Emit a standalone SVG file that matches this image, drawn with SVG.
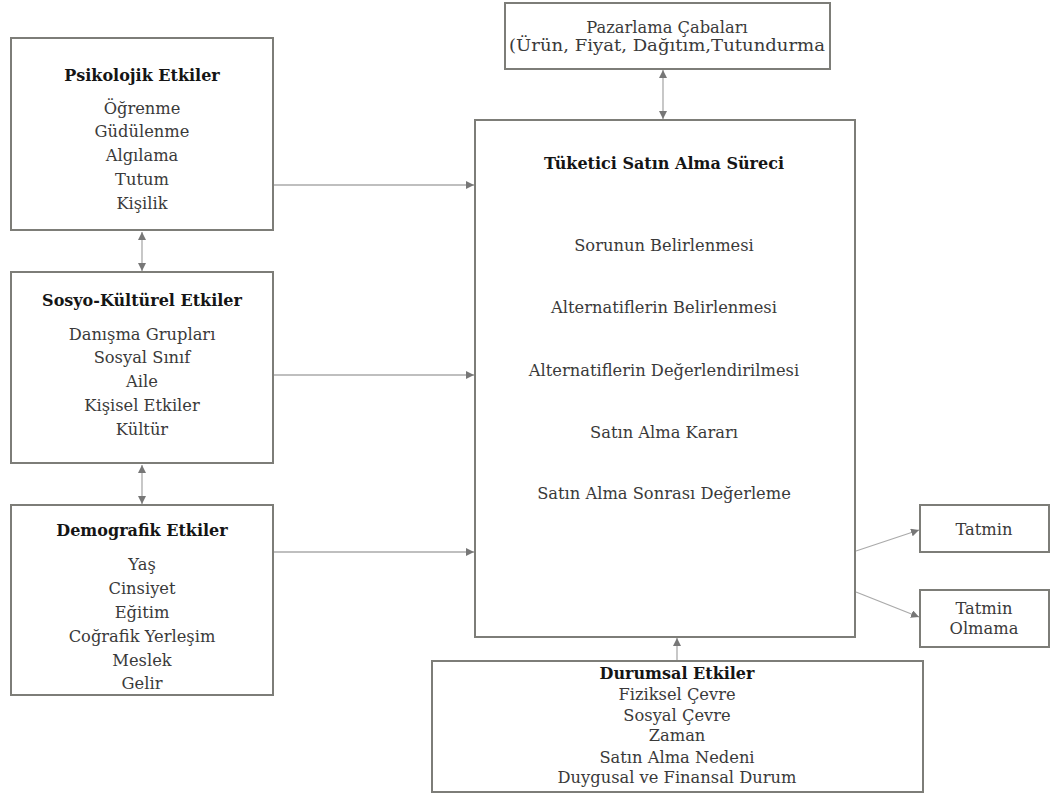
<svg xmlns="http://www.w3.org/2000/svg" width="1054" height="796" viewBox="0 0 1054 796">
<defs>
<marker id="ah" viewBox="0 0 10 10" refX="10" refY="5" markerWidth="8" markerHeight="8" markerUnits="userSpaceOnUse" orient="auto-start-reverse">
<path d="M0,0 L10,5 L0,10 z" fill="#777"/>
</marker>
<style>
.box{fill:#fff;stroke:#7d7d78;stroke-width:2}
.t{font-family:"DejaVu Serif","Liberation Serif",serif;font-size:16.3px;fill:#3a3a3a;text-anchor:middle}
.b{font-family:"DejaVu Serif","Liberation Serif",serif;font-size:16px;font-weight:bold;fill:#151515;text-anchor:middle}
.c{fill:none;stroke:#aaa;stroke-width:1.3}
</style>
</defs>
<rect width="1054" height="796" fill="#fff"/>
<g id="psikolojik">
<rect class="box" x="11" y="38" width="262" height="192"/>
<text class="b" x="142" y="81">Psikolojik Etkiler</text>
<text class="t" x="142" y="114">Öğrenme</text>
<text class="t" x="142" y="137">Güdülenme</text>
<text class="t" x="142" y="161">Algılama</text>
<text class="t" x="142" y="185">Tutum</text>
<text class="t" x="142" y="209">Kişilik</text>
</g>
<g id="sosyo">
<rect class="box" x="11" y="272" width="262" height="191"/>
<text class="b" x="142" y="306">Sosyo-Kültürel Etkiler</text>
<text class="t" x="142" y="340">Danışma Grupları</text>
<text class="t" x="142" y="363">Sosyal Sınıf</text>
<text class="t" x="142" y="387">Aile</text>
<text class="t" x="142" y="411">Kişisel Etkiler</text>
<text class="t" x="142" y="435">Kültür</text>
</g>
<g id="demografik">
<rect class="box" x="11" y="505" width="262" height="190"/>
<text class="b" x="142" y="536">Demografik Etkiler</text>
<text class="t" x="142" y="570">Yaş</text>
<text class="t" x="142" y="594">Cinsiyet</text>
<text class="t" x="142" y="618">Eğitim</text>
<text class="t" x="142" y="642">Coğrafik Yerleşim</text>
<text class="t" x="142" y="666">Meslek</text>
<text class="t" x="142" y="689">Gelir</text>
</g>
<g id="pazarlama">
<rect class="box" x="505" y="3" width="325" height="66"/>
<text class="t" x="667" y="33">Pazarlama Çabaları</text>
<text class="t" x="667" y="51" textLength="316" lengthAdjust="spacingAndGlyphs">(Ürün, Fiyat, Dağıtım,Tutundurma</text>
</g>
<g id="surec">
<rect class="box" x="475" y="120" width="380" height="517"/>
<text class="b" x="664" y="169">Tüketici Satın Alma Süreci</text>
<text class="t" x="664" y="251">Sorunun Belirlenmesi</text>
<text class="t" x="664" y="313">Alternatiflerin Belirlenmesi</text>
<text class="t" x="664" y="376">Alternatiflerin Değerlendirilmesi</text>
<text class="t" x="664" y="438">Satın Alma Kararı</text>
<text class="t" x="664" y="499">Satın Alma Sonrası Değerleme</text>
</g>
<g id="durumsal">
<rect class="box" x="432" y="661" width="491" height="131"/>
<text class="b" x="677" y="679">Durumsal Etkiler</text>
<text class="t" x="677" y="700">Fiziksel Çevre</text>
<text class="t" x="677" y="721">Sosyal Çevre</text>
<text class="t" x="677" y="741">Zaman</text>
<text class="t" x="677" y="763">Satın Alma Nedeni</text>
<text class="t" x="677" y="783">Duygusal ve Finansal Durum</text>
</g>
<g id="tatmin">
<rect class="box" x="920" y="505" width="129" height="47"/>
<text class="t" x="984" y="535">Tatmin</text>
</g>
<g id="tatmin-olmama">
<rect class="box" x="920" y="590" width="129" height="57"/>
<text class="t" x="984" y="614">Tatmin</text>
<text class="t" x="984" y="634">Olmama</text>
</g>
<g id="connectors">
<line class="c" x1="142" y1="232" x2="142" y2="271" marker-start="url(#ah)" marker-end="url(#ah)"/>
<line class="c" x1="142" y1="465" x2="142" y2="504" marker-start="url(#ah)" marker-end="url(#ah)"/>
<line class="c" x1="274" y1="185" x2="474" y2="185" marker-end="url(#ah)"/>
<line class="c" x1="274" y1="375" x2="474" y2="375" marker-end="url(#ah)"/>
<line class="c" x1="274" y1="552" x2="474" y2="552" marker-end="url(#ah)"/>
<line class="c" x1="663" y1="70" x2="663" y2="119" marker-start="url(#ah)" marker-end="url(#ah)"/>
<line class="c" x1="677" y1="660" x2="677" y2="638" marker-end="url(#ah)"/>
<line class="c" x1="856" y1="551" x2="919" y2="530" marker-end="url(#ah)"/>
<line class="c" x1="856" y1="592" x2="919" y2="617" marker-end="url(#ah)"/>
</g>
</svg>
